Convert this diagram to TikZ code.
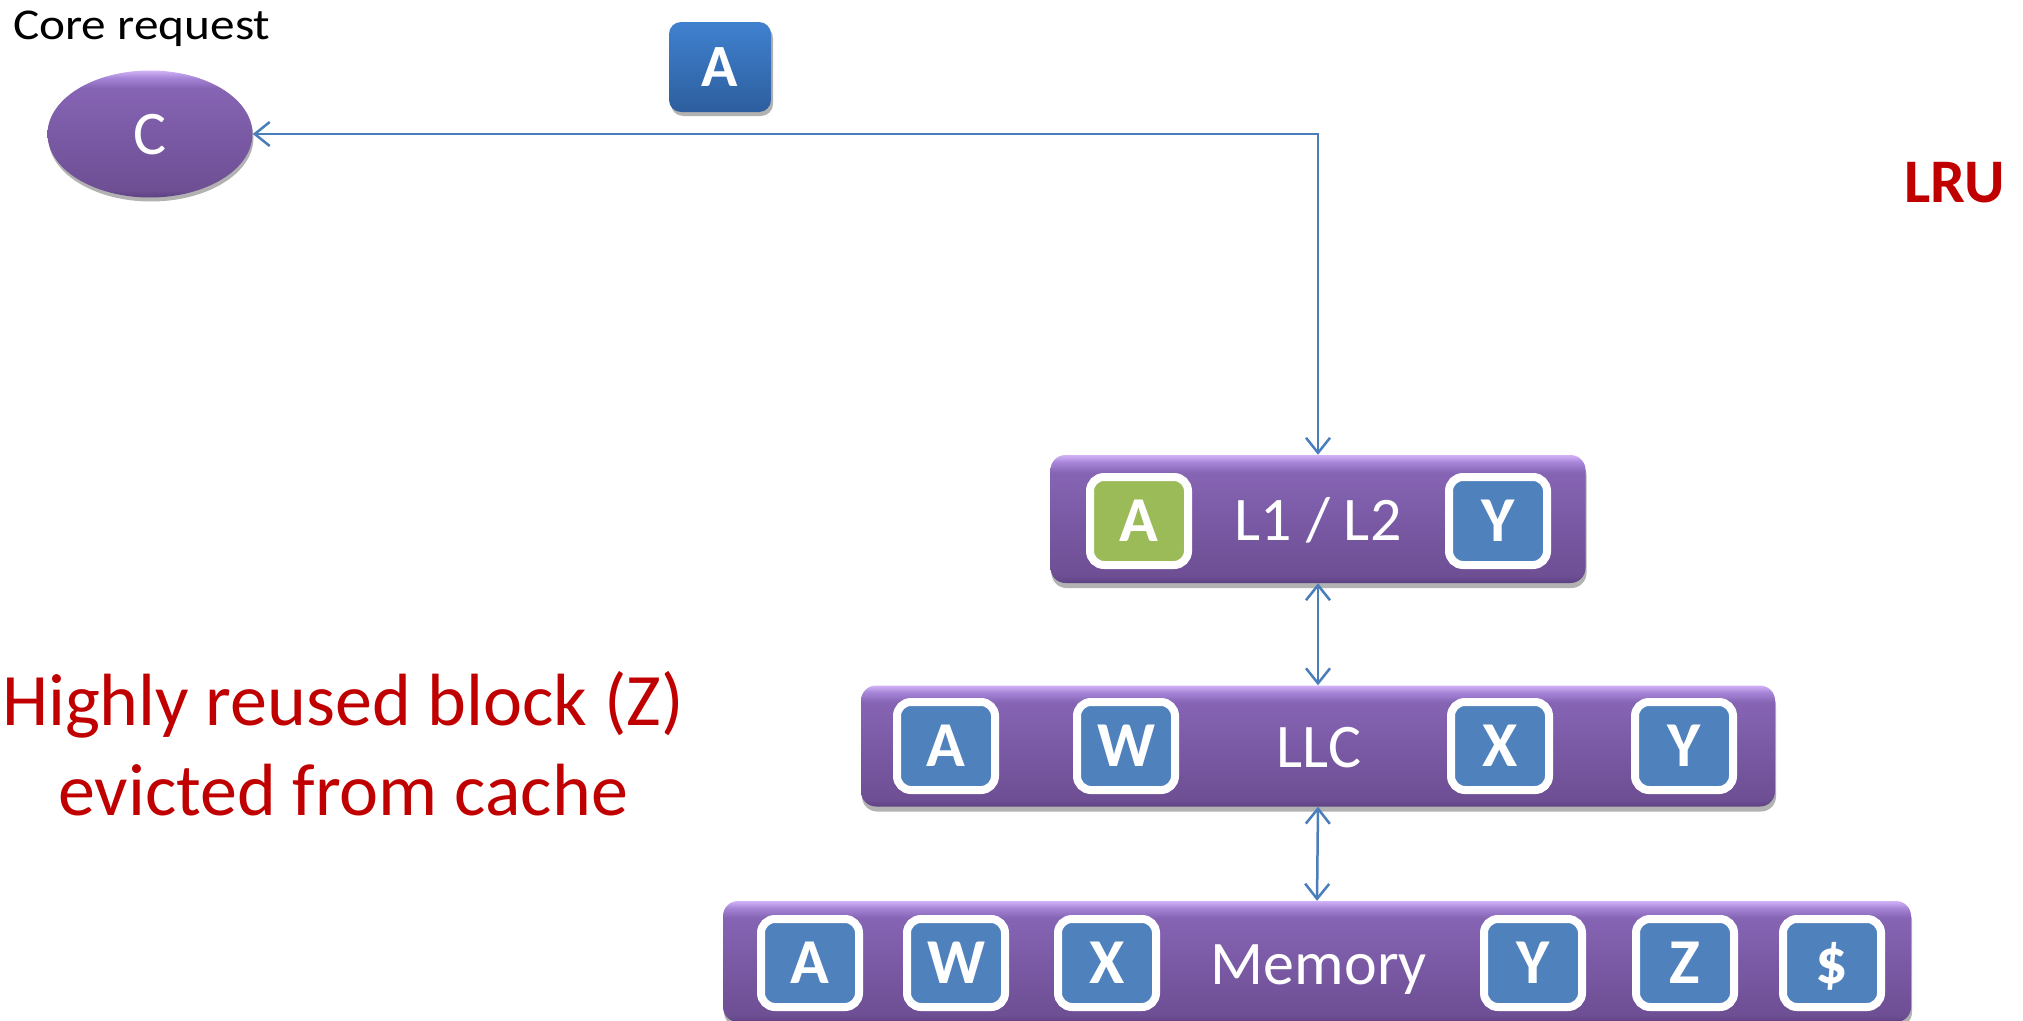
\documentclass[tikz,border=0pt]{standalone}
\usepackage{fontspec}
\usepackage{graphicx}
\setmainfont{Carlito}
\usetikzlibrary{arrows.meta,shapes.geometric,shadows}
\definecolor{pbot}{HTML}{5E4183}
\definecolor{plow}{HTML}{6E4F94}
\definecolor{pmid}{HTML}{7A5AA5}
\definecolor{pup}{HTML}{8664B4}
\definecolor{phl}{HTML}{A583D6}
\definecolor{phl2}{HTML}{D2B2F7}
\definecolor{bbot}{HTML}{2D5E9E}
\definecolor{btop}{HTML}{4081CF}
\definecolor{cellblue}{HTML}{4F81BD}
\definecolor{cellgreen}{HTML}{9BBB59}
\definecolor{arrowblue}{HTML}{4A7EBB}
\definecolor{darkred}{HTML}{C00000}
\pgfdeclareverticalshading{purplebar}{100bp}{color(0bp)=(pbot); color(25bp)=(pbot); color(28bp)=(plow); color(50bp)=(pmid); color(68bp)=(pup); color(72bp)=(phl); color(75bp)=(phl2); color(100bp)=(phl2)}
\pgfdeclareverticalshading{bluebar}{100bp}{color(0bp)=(bbot); color(25bp)=(bbot); color(75bp)=(btop); color(100bp)=(btop)}
\tikzset{
  bar/.style={shading=purplebar, rounded corners=15pt, inner sep=0pt,
    drop shadow={shadow xshift=1pt, shadow yshift=-5pt, opacity=0.3, fill=black}},
  lvl/.style={anchor=base, inner sep=0pt, text=white, font=\fontsize{62}{62}\selectfont},
  cell/.style={draw=white, line width=8pt, rounded corners=14pt, minimum width=98pt,
    minimum height=88pt, inner sep=0pt, text=white, text height=40pt, text depth=0pt,
    font=\fontsize{64}{64}\bfseries\selectfont,
    drop shadow={shadow xshift=1pt, shadow yshift=-3pt, opacity=0.25, fill=black}},
  conn/.style={draw=arrowblue, line width=2.5pt, >={Straight Barb[length=15pt,width=24pt]}, <->},
  redtext/.style={anchor=base, inner sep=0pt, text=darkred, font=\fontsize{74}{74}\selectfont}
}
\begin{document}
\begin{tikzpicture}[x=1pt,y=-1pt]
\useasboundingbox[fill=white] (0,0) rectangle (2023,1020);

% core
\node[anchor=base west, inner sep=0pt, font=\fontsize{44}{44}\selectfont] (req) at (13,39) {\scalebox{1.12}[1]{Core request}};
\node[ellipse, shading=purplebar, minimum width=205pt, minimum height=127pt, inner sep=0pt,
  drop shadow={shadow xshift=1pt, shadow yshift=-4pt, opacity=0.3, fill=black}] (C) at (150,134) {};
\node[anchor=base, inner sep=0pt, text=white, font=\fontsize{62}{62}\selectfont] (Ct) at (150,154) {C};

% travelling block
\node[shading=bluebar, rounded corners=12pt, minimum width=102pt, minimum height=90pt, inner sep=0pt,
  text=white, text height=38pt, text depth=0pt, font=\fontsize{60}{60}\bfseries\selectfont,
  drop shadow={shadow xshift=2pt, shadow yshift=-4pt, opacity=0.3, fill=black}] (Atop) at (720,67) {A};

% LRU
\node[anchor=base east, inner sep=0pt, text=darkred, font=\fontsize{62}{62}\bfseries\selectfont] (lru) at (2005,202) {LRU};

% red caption
\node[redtext] (h1) at (343,725) {Highly reused block (Z)};
\node[redtext] (h2) at (343,815) {evicted from cache};

% L1/L2
\node[bar, minimum width=535pt, minimum height=128pt] (L1) at (1318,519) {};
\node[lvl] (L1t) at (1318,540) {L1 / L2};
\node[cell, fill=cellgreen] (L1a) at (1139,521) {A};
\node[cell, fill=cellblue] (L1y) at (1498,521) {Y};

% LLC
\node[bar, minimum width=914pt, minimum height=121pt] (LLC) at (1318,746) {};
\node[lvl] (LLCt) at (1319,767) {LLC};
\node[cell, fill=cellblue] (LLCa) at (946,746) {A};
\node[cell, fill=cellblue] (LLCw) at (1126,746) {W};
\node[cell, fill=cellblue] (LLCx) at (1500,746) {X};
\node[cell, fill=cellblue] (LLCy) at (1684,746) {Y};

% Memory
\node[bar, minimum width=1188pt, minimum height=121pt] (Mem) at (1317,961.5) {};
\node[lvl] (Memt) at (1319,984) {Memory};
\node[cell, fill=cellblue] (Ma) at (810,963) {A};
\node[cell, fill=cellblue] (Mw) at (956,963) {W};
\node[cell, fill=cellblue] (Mx) at (1107,963) {X};
\node[cell, fill=cellblue] (My) at (1533,963) {Y};
\node[cell, fill=cellblue] (Mz) at (1685,963) {Z};
\node[cell, fill=cellblue] (Md) at (1832,963) {\$};

% connectors
\draw[conn] (L1.north) -- (L1.north |- C.east) -- (C.east);
\draw[conn] (L1.south) -- (LLC.north);
\draw[conn] (LLC.south) -- (Mem.north);
\end{tikzpicture}
\end{document}
